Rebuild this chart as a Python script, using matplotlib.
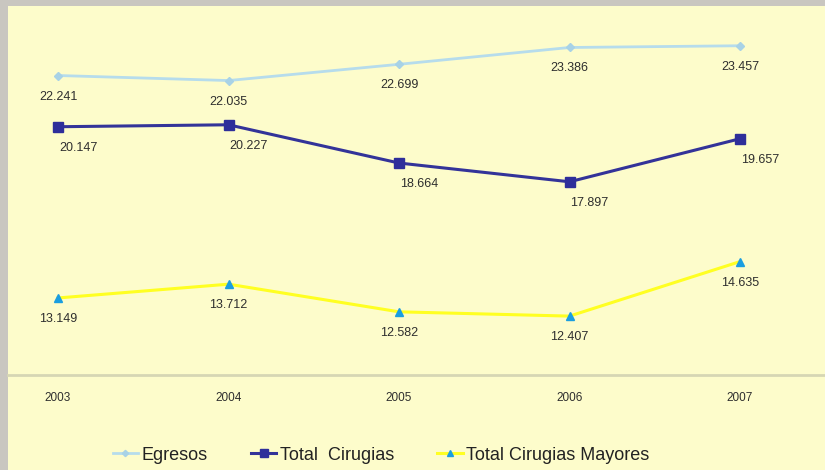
import matplotlib.pyplot as plt
from matplotlib.patches import Rectangle

# Data
years = ['2003', '2004', '2005', '2006', '2007']
egresos = [22241, 22035, 22699, 23386, 23457]
cirugias = [20147, 20227, 18664, 17897, 19657]
mayores = [13149, 13712, 12582, 12407, 14635]

def fmt(v):
    return '{:,}'.format(v).replace(',', '.')

plt.rcParams['font.family'] = ['Liberation Sans', 'DejaVu Sans']

W, H = 825, 470
fig = plt.figure(figsize=(W / 100, H / 100), dpi=100)
fig.patch.set_facecolor('#c9c6c0')

# yellow panel
fig.patches.append(Rectangle((8 / W, 0), 1 - 8 / W, 1 - 6 / H,
                             transform=fig.transFigure, facecolor='#fdfccb',
                             edgecolor='none', zorder=-5))

ax = fig.add_axes([8 / W, 1 - 375 / H, 1 - 8 / W, (375 - 8) / H])
ax.set_facecolor('none')
x = list(range(len(years)))

ax.plot(x, egresos, color='#b6dcec', lw=2, marker='D', ms=4,
        mfc='#a8d2e6', mec='#a8d2e6', label='Egresos')
ax.plot(x, cirugias, color='#333399', lw=2.2, marker='s', ms=7,
        mfc='#2e2e9a', mec='#2e2e9a', label='Total  Cirugias')
ax.plot(x, mayores, color='#ffff22', lw=2.2, marker='^', ms=6,
        mfc='#1a9ee0', mec='#1a9ee0', label='Total Cirugias Mayores')

lab = dict(fontsize=9, color='#2e2e2e', ha='center', va='center')
for i in x:
    ax.annotate(fmt(egresos[i]), (i, egresos[i]), xytext=(0, -21),
                textcoords='offset pixels', **lab)
    ax.annotate(fmt(cirugias[i]), (i, cirugias[i]), xytext=(20, -21),
                textcoords='offset pixels', **lab)
    ax.annotate(fmt(mayores[i]), (i, mayores[i]), xytext=(0, -21),
                textcoords='offset pixels', **lab)

ax.set_ylim(10000, 25000)
ax.set_xlim(-50 / 170.5, 4 + 85 / 170.5)
ax.set_xticks(x)
ax.set_xticklabels(years, fontsize=8.5, color='#2e2e2e')
ax.tick_params(axis='x', length=0, pad=12)
ax.set_yticks([])
for s in ['top', 'right', 'left']:
    ax.spines[s].set_visible(False)
ax.spines['bottom'].set_color('#d6d6b4')
ax.spines['bottom'].set_linewidth(2)

leg = fig.legend(loc='center', bbox_to_anchor=(381 / W, 1 - 455 / H),
                 ncol=3, frameon=False, fontsize=13, handlelength=1.4,
                 handletextpad=0.2, columnspacing=2.4, labelcolor='#222222',
                 markerscale=0.8)

fig.savefig('out.png', dpi=100, facecolor=fig.get_facecolor())
